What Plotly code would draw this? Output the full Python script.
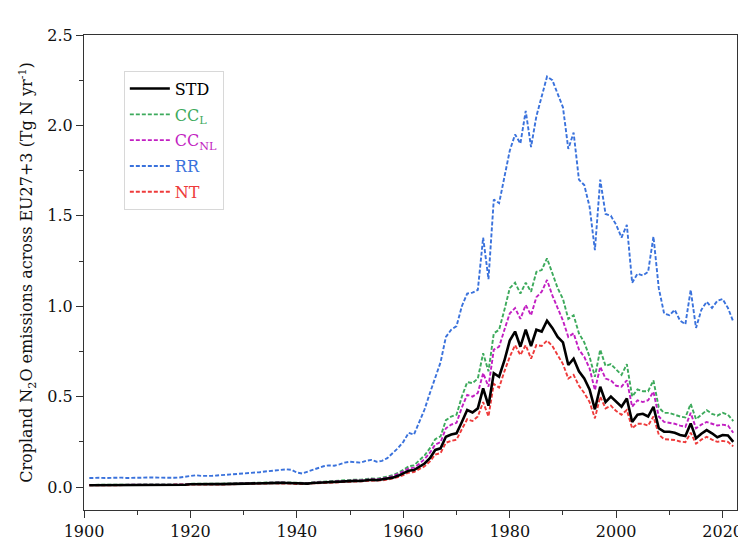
import plotly.graph_objects as go

years = list(range(1901, 2023))

std = [
    0.010, 0.010, 0.011, 0.010, 0.011, 0.011, 0.012, 0.011, 0.012, 0.012,
    0.012, 0.013, 0.012, 0.013, 0.012, 0.011, 0.011, 0.012, 0.013, 0.015,
    0.016, 0.015, 0.014, 0.015, 0.016, 0.016, 0.017, 0.017, 0.018, 0.019,
    0.019, 0.020, 0.021, 0.021, 0.022, 0.022, 0.023, 0.022, 0.021, 0.018,
    0.017, 0.019, 0.022, 0.024, 0.025, 0.027, 0.029, 0.030, 0.032, 0.033,
    0.034, 0.033, 0.036, 0.040, 0.038, 0.042, 0.046, 0.052, 0.062, 0.075,
    0.090, 0.094, 0.110, 0.130, 0.160, 0.205, 0.214, 0.278, 0.290, 0.297,
    0.360, 0.426, 0.412, 0.435, 0.546, 0.450, 0.630, 0.610, 0.700, 0.810,
    0.860, 0.776, 0.870, 0.780, 0.870, 0.860, 0.920, 0.880, 0.830, 0.800,
    0.675, 0.710, 0.640, 0.600, 0.540, 0.430, 0.555, 0.470, 0.500, 0.470,
    0.444, 0.490, 0.360, 0.400, 0.405, 0.390, 0.444, 0.325, 0.306, 0.306,
    0.300, 0.288, 0.282, 0.352, 0.270, 0.295, 0.315, 0.297, 0.275, 0.288,
    0.285, 0.250,
]

cc_l = [
    0.012, 0.012, 0.013, 0.012, 0.013, 0.013, 0.014, 0.013, 0.014, 0.014,
    0.014, 0.015, 0.014, 0.015, 0.014, 0.013, 0.013, 0.014, 0.015, 0.018,
    0.019, 0.018, 0.017, 0.018, 0.019, 0.019, 0.020, 0.020, 0.021, 0.022,
    0.022, 0.023, 0.024, 0.025, 0.026, 0.026, 0.027, 0.026, 0.025, 0.021,
    0.020, 0.022, 0.026, 0.028, 0.030, 0.032, 0.034, 0.036, 0.038, 0.040,
    0.041, 0.040, 0.044, 0.048, 0.046, 0.050, 0.058, 0.066, 0.078, 0.095,
    0.115, 0.120, 0.145, 0.175, 0.215, 0.265, 0.280, 0.370, 0.390, 0.400,
    0.500, 0.580, 0.575, 0.600, 0.740, 0.640, 0.850, 0.870, 0.980, 1.100,
    1.130, 1.070, 1.130, 1.080, 1.190, 1.200, 1.265, 1.180, 1.100, 1.040,
    0.930, 0.950, 0.850, 0.800, 0.720, 0.610, 0.760, 0.670, 0.680, 0.650,
    0.620, 0.680, 0.500, 0.540, 0.530, 0.530, 0.590, 0.440, 0.410, 0.410,
    0.400, 0.390, 0.385, 0.460, 0.375, 0.400, 0.425, 0.405, 0.395, 0.410,
    0.400, 0.365,
]

cc_nl = [
    0.011, 0.011, 0.012, 0.011, 0.012, 0.012, 0.013, 0.012, 0.013, 0.013,
    0.013, 0.014, 0.013, 0.014, 0.013, 0.012, 0.012, 0.013, 0.014, 0.016,
    0.017, 0.016, 0.015, 0.016, 0.017, 0.017, 0.018, 0.018, 0.019, 0.020,
    0.020, 0.021, 0.022, 0.023, 0.024, 0.024, 0.025, 0.024, 0.023, 0.019,
    0.018, 0.020, 0.024, 0.026, 0.027, 0.029, 0.031, 0.033, 0.035, 0.036,
    0.037, 0.036, 0.040, 0.044, 0.042, 0.046, 0.052, 0.060, 0.071, 0.086,
    0.103, 0.107, 0.128, 0.155, 0.190, 0.235, 0.248, 0.325, 0.345, 0.355,
    0.440, 0.510, 0.500, 0.520, 0.630, 0.555, 0.760, 0.776, 0.870, 0.960,
    0.990, 0.930, 1.007, 0.950, 1.050, 1.080, 1.145, 1.060, 0.990, 0.920,
    0.830, 0.850, 0.760, 0.720, 0.656, 0.536, 0.665, 0.600, 0.590, 0.560,
    0.555, 0.590, 0.444, 0.480, 0.470, 0.480, 0.527, 0.390, 0.360, 0.355,
    0.350, 0.340, 0.333, 0.410, 0.325, 0.345, 0.360, 0.350, 0.340, 0.345,
    0.340, 0.300,
]

rr = [
    0.050, 0.052, 0.051, 0.050, 0.052, 0.053, 0.052, 0.050, 0.051, 0.053,
    0.054, 0.055, 0.053, 0.052, 0.051, 0.050, 0.051, 0.053, 0.056, 0.062,
    0.065, 0.062, 0.060, 0.062, 0.064, 0.066, 0.067, 0.068, 0.071, 0.074,
    0.076, 0.078, 0.082, 0.086, 0.088, 0.092, 0.094, 0.098, 0.095, 0.080,
    0.075, 0.085, 0.095, 0.105, 0.115, 0.120, 0.118, 0.125, 0.135, 0.140,
    0.138, 0.135, 0.145, 0.150, 0.140, 0.145, 0.160, 0.185, 0.215, 0.250,
    0.300, 0.290, 0.360, 0.430, 0.520, 0.610, 0.690, 0.830, 0.870, 0.890,
    1.000, 1.070, 1.075, 1.090, 1.380, 1.150, 1.590, 1.570, 1.720, 1.860,
    1.950, 1.900, 2.080, 1.880, 2.050, 2.160, 2.270, 2.250, 2.180, 2.100,
    1.870, 1.960, 1.700, 1.670, 1.550, 1.310, 1.700, 1.510, 1.500, 1.450,
    1.380, 1.450, 1.130, 1.180, 1.170, 1.190, 1.385, 1.100, 0.960, 0.950,
    0.980, 0.920, 0.900, 1.090, 0.880, 0.980, 1.025, 0.990, 1.030, 1.040,
    0.990, 0.915,
]

nt = [
    0.009, 0.009, 0.010, 0.009, 0.010, 0.010, 0.011, 0.010, 0.011, 0.011,
    0.011, 0.012, 0.011, 0.012, 0.011, 0.010, 0.010, 0.011, 0.012, 0.013,
    0.014, 0.013, 0.012, 0.013, 0.014, 0.014, 0.015, 0.015, 0.016, 0.017,
    0.017, 0.018, 0.019, 0.019, 0.020, 0.020, 0.021, 0.020, 0.019, 0.016,
    0.015, 0.017, 0.020, 0.021, 0.022, 0.024, 0.026, 0.027, 0.028, 0.029,
    0.030, 0.029, 0.032, 0.035, 0.034, 0.037, 0.041, 0.046, 0.055, 0.066,
    0.080, 0.083, 0.097, 0.115, 0.142, 0.180, 0.188, 0.245, 0.255, 0.262,
    0.320, 0.375, 0.365, 0.390, 0.470, 0.390, 0.570, 0.550, 0.640, 0.720,
    0.785, 0.730, 0.785, 0.710, 0.785, 0.780, 0.810, 0.780, 0.730, 0.680,
    0.600, 0.620, 0.560, 0.520, 0.470, 0.380, 0.500, 0.435, 0.450, 0.420,
    0.400, 0.426, 0.325, 0.350, 0.350, 0.340, 0.390, 0.290, 0.265, 0.262,
    0.260, 0.252, 0.248, 0.300, 0.240, 0.262, 0.278, 0.262, 0.250, 0.255,
    0.250, 0.225,
]

x_tick_vals = [1900, 1920, 1940, 1960, 1980, 2000, 2020]
y_tick_vals = [0.0, 0.5, 1.0, 1.5, 2.0, 2.5]
y_tick_text = ["0.0", "0.5", "1.0", "1.5", "2.0", "2.5"]

C_STD = "#000000"
C_CCL = "#3DAA5C"
C_CCNL = "#C21FC2"
C_RR = "#3A72DC"
C_NT = "#EE3B3B"

SERIF = "DejaVu Serif, Liberation Serif, serif"
DASH = "4px,2px"

fig = go.Figure()

def add(y, name, color, dash, width, rank, group):
    fig.add_trace(go.Scatter(
        x=years, y=y, mode="lines", name=name,
        line=dict(color=color, width=width, dash=dash),
        legendrank=rank, legendgroup=group,
    ))

add(rr, "<span style='color:%s'>RR</span>" % C_RR, C_RR, DASH, 1.9, 4, "g4")
add(cc_l, "<span style='color:%s'>CC<sub>L</sub></span>" % C_CCL, C_CCL, DASH, 1.9, 2, "g2")
add(cc_nl, "<span style='color:%s'>CC<sub>NL</sub></span>" % C_CCNL, C_CCNL, DASH, 1.9, 3, "g3")
add(nt, "<span style='color:%s'>NT</span>" % C_NT, C_NT, DASH, 1.9, 5, "g5")
add(std, "<span style='color:#000'>STD</span>", C_STD, "solid", 2.6, 1, "g1")

axis_common = dict(
    showgrid=False, zeroline=False, showline=True, linecolor="#333",
    linewidth=1, mirror=True, ticks="outside", ticklen=7, tickwidth=1,
    tickcolor="#333", tickfont=dict(family=SERIF, size=16, color="#111"),
    automargin=False,
)

fig.update_xaxes(
    range=[1900, 2022.7], tickvals=x_tick_vals,
    minor=dict(dtick=10, tick0=1900, ticks="outside", ticklen=4, tickcolor="#333"),
    **axis_common,
)
fig.update_yaxes(
    range=[-0.127, 2.5], tickvals=y_tick_vals, ticktext=y_tick_text,
    minor=dict(dtick=0.25, tick0=0, ticks="outside", ticklen=4, tickcolor="#333"),
    title=dict(text="Cropland N<sub>2</sub>O emissions across EU27+3 (Tg N yr<sup>-1</sup>)",
               font=dict(family=SERIF, size=16, color="#111"), standoff=10),
    **axis_common,
)

# The page adds an 8px body margin, so the figure is 8px smaller than the window.
fig.update_layout(
    width=738, height=532,
    margin=dict(l=76, r=9, t=27, b=30),
    plot_bgcolor="white", paper_bgcolor="white",
    legend=dict(
        x=0.061, y=0.925, xanchor="left", yanchor="top",
        bgcolor="white", bordercolor="#d8d8d8", borderwidth=1,
        font=dict(family=SERIF, size=16, color="#000"),
        tracegroupgap=2, itemwidth=40, traceorder="grouped",
    ),
    showlegend=True,
)

fig.write_html("out.html")
